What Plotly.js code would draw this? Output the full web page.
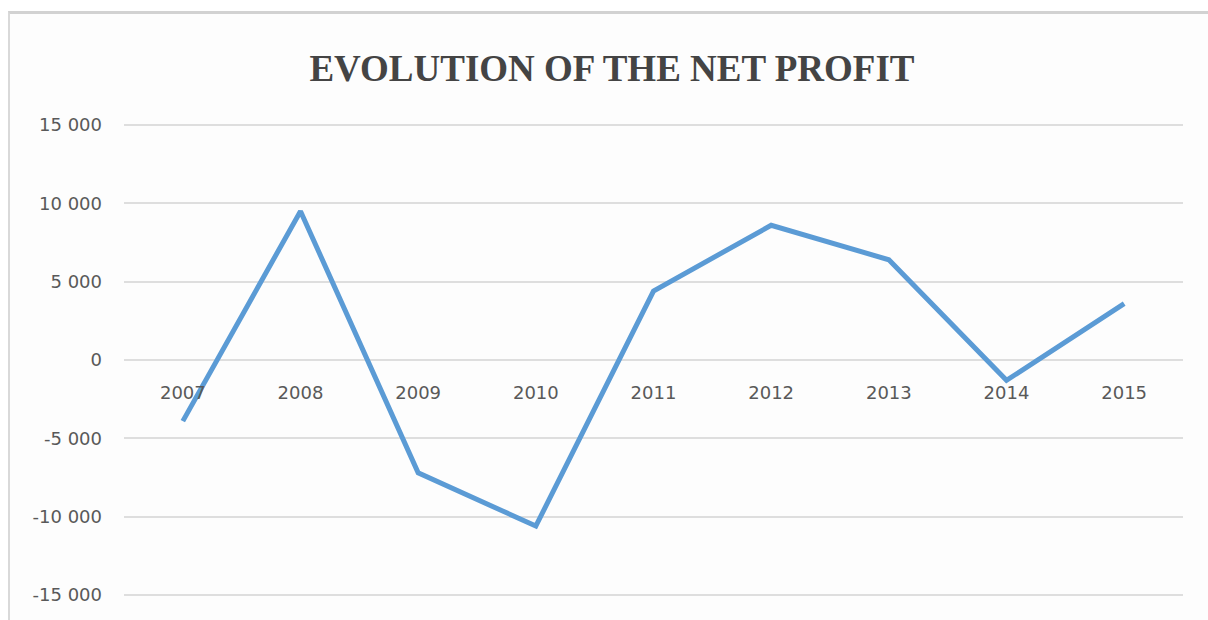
<!DOCTYPE html>
<html>
<head>
<meta charset="utf-8">
<script src="https://cdn.plot.ly/plotly-3.0.1.min.js"></script>
<style>
  html, body { margin: 0; padding: 0; background: #ffffff; width: 1208px; height: 620px; overflow: hidden; }
  #frame { position: absolute; left: 8px; top: 11px; width: 1200px; height: 609px;
           border-left: 2px solid #d9d9d9; border-top: 3px solid #d2d2d2; background: #fdfdfd; box-sizing: border-box; }
  #chart { position: absolute; left: 0; top: 0; width: 1208px; height: 620px; }
</style>
</head>
<body>
<div id="frame"></div>
<div id="chart"></div>
<script>
const chartTitle = 'EVOLUTION OF THE NET PROFIT';
const years = ['2007', '2008', '2009', '2010', '2011', '2012', '2013', '2014', '2015'];
const netProfit = [-3900, 9500, -7200, -10600, 4400, 8600, 6400, -1300, 3600];
const yTickValues = [15000, 10000, 5000, 0, -5000, -10000, -15000];
const yTickLabels = ['15 000', '10 000', '5 000', '0', '-5 000', '-10 000', '-15 000'];

const trace = {
  type: 'scatter',
  mode: 'lines',
  x: years,
  y: netProfit,
  line: { color: '#5b9bd5', width: 5 },
  hoverinfo: 'skip'
};

const tickFont = { family: 'DejaVu Sans, sans-serif', size: 18, color: '#595959' };

const layout = {
  width: 1208,
  height: 620,
  margin: { l: 124, r: 25, t: 120, b: 20 },
  paper_bgcolor: 'rgba(0,0,0,0)',
  plot_bgcolor: 'rgba(0,0,0,0)',
  showlegend: false,
  title: {
    text: chartTitle,
    font: { family: 'Liberation Serif, Times New Roman, serif', size: 37, color: '#444444', weight: 'bold' },
    xref: 'container', x: 0.5066, xanchor: 'center',
    yref: 'container', y: 0.89, yanchor: 'middle'
  },
  xaxis: {
    type: 'category',
    range: [-0.5, 8.5],
    anchor: 'free',
    position: 0.5,
    showline: false,
    showgrid: false,
    zeroline: false,
    ticks: '',
    ticklabelstandoff: 20,
    tickfont: tickFont,
    fixedrange: true
  },
  yaxis: {
    range: [-15320, 15320],
    tickvals: yTickValues,
    ticktext: yTickLabels,
    showline: false,
    showgrid: true,
    gridcolor: '#dedede',
    gridwidth: 2,
    zeroline: true,
    zerolinecolor: '#dedede',
    zerolinewidth: 2,
    ticks: '',
    ticklabelstandoff: 21,
    tickfont: tickFont,
    fixedrange: true
  }
};

Plotly.newPlot('chart', [trace], layout, { displayModeBar: false, staticPlot: true });
</script>
</body>
</html>
